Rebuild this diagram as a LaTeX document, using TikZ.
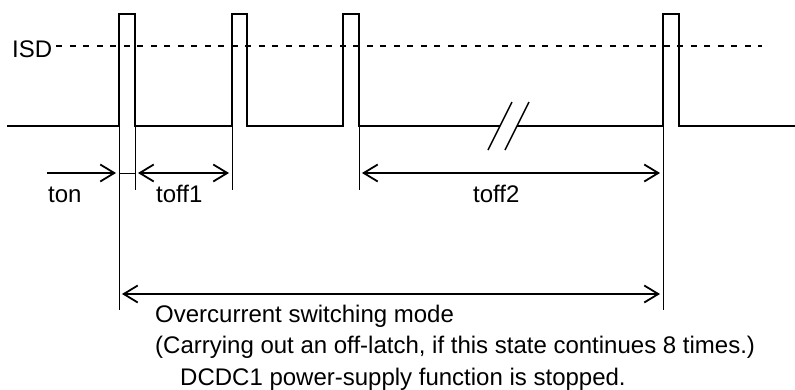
\documentclass[tikz,border=0pt]{standalone}
\usepackage{fontspec}
\setmainfont{Liberation Sans}
\usetikzlibrary{arrows.meta, positioning}

\begin{document}
\begin{tikzpicture}[x=1pt, y=-1pt,
    wave/.style={line width=2pt, line join=miter},
    guide/.style={line width=1pt},
    thresh/.style={line width=1.7pt, dash pattern=on 6pt off 7.5pt},
    brk/.style={line width=1.5pt},
    dim/.style={line width=1.8pt, shorten <=3pt, shorten >=3pt,
                {Straight Barb[length=14pt, width=17pt]}-{Straight Barb[length=14pt, width=17pt]}},
    dimr/.style={line width=1.8pt, shorten >=3pt, -{Straight Barb[length=14pt, width=17pt]}},
    txt/.style={inner sep=0pt, anchor=base west, font=\fontsize{24}{32}\selectfont},
]
    \useasboundingbox (0,0) rectangle (795,389);

    % levels and pulse edges
    \coordinate (top) at (0,14);
    \coordinate (row1) at (0,173);
    \coordinate (row2) at (0,294);
    \coordinate (start) at (7,126);
    \coordinate (p1l) at (119,126);
    \coordinate (p1r) at (135,126);
    \coordinate (p2l) at (232,126);
    \coordinate (p2r) at (247,126);
    \coordinate (p3l) at (343,126);
    \coordinate (p3r) at (359,126);
    \coordinate (p4l) at (663,126);
    \coordinate (p4r) at (679,126);
    \coordinate (brkA) at (500,126);
    \coordinate (brkB) at (517,126);
    \coordinate (stop) at (795,126);

    % threshold
    \node[txt] (isd) at (12,57) {ISD};
    \coordinate (isdend) at (762,46);
    \draw[thresh] ([xshift=4pt]isd.east |- isdend) -- (isdend);

    % waveform
    \draw[wave] (start) -- (p1l) -- (p1l |- top) -- (p1r |- top) -- (p1r)
        -- (p2l) -- (p2l |- top) -- (p2r |- top) -- (p2r)
        -- (p3l) -- (p3l |- top) -- (p3r |- top) -- (p3r) -- (brkA);
    \draw[wave] (brkB) -- (p4l) -- (p4l |- top) -- (p4r |- top) -- (p4r) -- (stop);

    % break marks
    \draw[brk] ([shift={(-12,24)}]brkA) -- ([shift={(12,-24)}]brkA);
    \draw[brk] ([shift={(-12,24)}]brkB) -- ([shift={(12,-24)}]brkB);

    % extension lines
    \draw[guide] (p1l) -- ++(0,184);
    \draw[guide] (p1r) -- ++(0,64);
    \draw[guide] (p2l) -- ++(0,64);
    \draw[guide] (p3r) -- ++(0,64);
    \draw[guide] (p4l) -- ++(0,184);

    % timing arrows
    \coordinate (tonstart) at (47,173);
    \draw[dimr] (tonstart) -- (p1l |- row1);
    \draw[guide] (p1l |- row1) -- (p1r |- row1);
    \draw[dim] (p1r |- row1) -- (p2l |- row1);
    \draw[dim] (p3r |- row1) -- (p4l |- row1);
    \draw[dim] (p1l |- row2) -- (p4l |- row2);

    \node[txt] (ton) at (48,202) {ton};
    \node[txt] (toff1) at (156,202) {toff1};
    \node[txt] (toff2) at (473,202) {toff2};

    % mode description
    \node[txt] (mode) at (155,322) {Overcurrent switching mode};
    \node[txt] (latch) at (155,353) {(Carrying out an off-latch, if this state continues 8 times.)};
    \node[txt] (halt) at (180,385) {DCDC1 power-supply function is stopped.};
\end{tikzpicture}
\end{document}
